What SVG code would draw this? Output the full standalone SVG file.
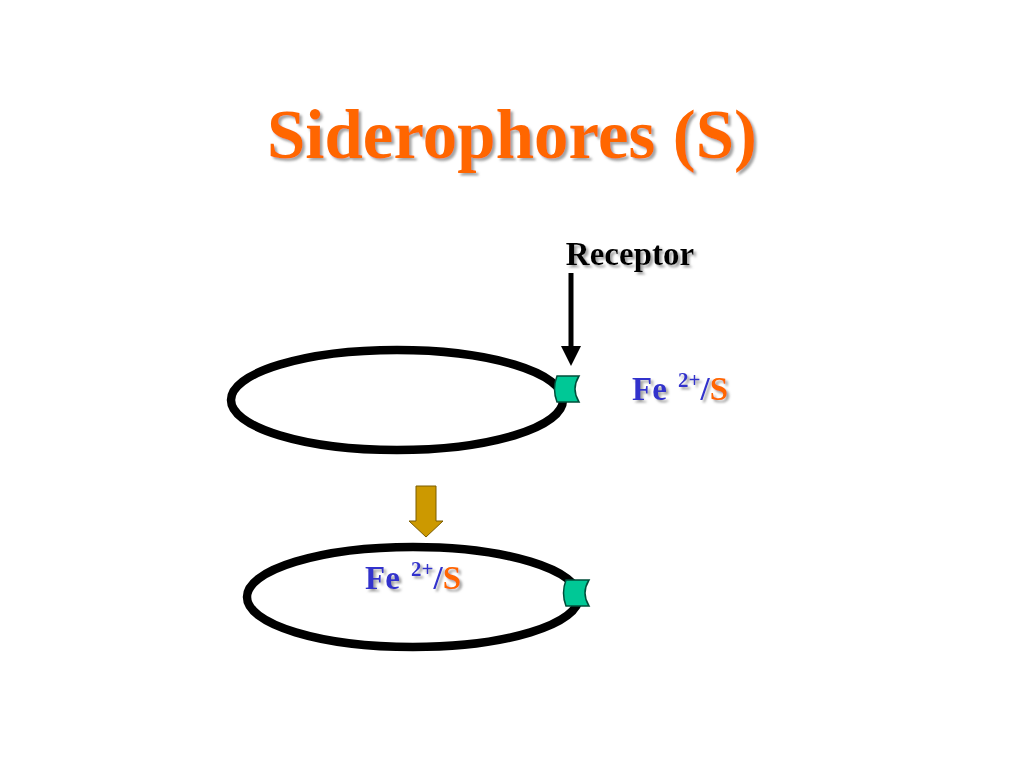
<svg xmlns="http://www.w3.org/2000/svg" width="1024" height="768" viewBox="0 0 1024 768">
<defs>
<style>
.t{font-family:"Liberation Serif","Times New Roman",serif;font-weight:bold}
.shadow{filter:url(#sh)}
.blue{fill:#3333CC}
.orange{fill:#FF6600}
.cell{fill:none;stroke:#000;stroke-width:8.5}
.rec{fill:#00C896;stroke:#004d3a;stroke-width:1.5}
</style>
<filter id="sh" x="-10%" y="-20%" width="130%" height="150%">
<feDropShadow dx="2.5" dy="2.5" stdDeviation="0.8" flood-color="#999999" flood-opacity="0.9"/>
</filter>
</defs>
<rect width="1024" height="768" fill="#fff"/>

<g id="title">
<text class="t shadow orange" x="512" y="158" font-size="69" text-anchor="middle">Siderophores (S)</text>
</g>

<g id="receptor-label">
<text class="t shadow" x="630" y="265" font-size="33" text-anchor="middle" fill="#000">Receptor</text>
</g>

<g id="cell-top">
<ellipse class="cell" cx="397" cy="400" rx="166" ry="50"/>
</g>
<g id="receptor-top">
<path class="rec" d="M557,376 L579,376 Q571,389 579,402 L557,402 Q552,389 557,376 z"/>
</g>

<g id="fe-top">
<text class="t shadow blue" x="632" y="400" font-size="33">Fe <tspan font-size="21" dy="-13" dx="3">2+</tspan><tspan dy="13">/</tspan><tspan class="orange">S</tspan></text>
</g>

<g id="cell-bottom">
<ellipse class="cell" cx="413" cy="597" rx="166" ry="50"/>
</g>
<g id="receptor-bottom">
<path class="rec" d="M566,580 L589,580 Q581,593 589,606 L566,606 Q561,593 566,580 z"/>
</g>

<g id="fe-bottom">
<text class="t shadow blue" x="365" y="589" font-size="33">Fe <tspan font-size="21" dy="-13" dx="3">2+</tspan><tspan dy="13">/</tspan><tspan class="orange">S</tspan></text>
</g>

<g id="connectors">
<line x1="571" y1="273" x2="571" y2="348" stroke="#000" stroke-width="5"/>
<path d="M561,346 L581,346 L571,366 z" fill="#000"/>
<path d="M416,486 L436,486 L436,521 L443,521 L426,537 L409,521 L416,521 z" fill="#CC9900" stroke="#7a5c00" stroke-width="1"/>
</g>
</svg>
